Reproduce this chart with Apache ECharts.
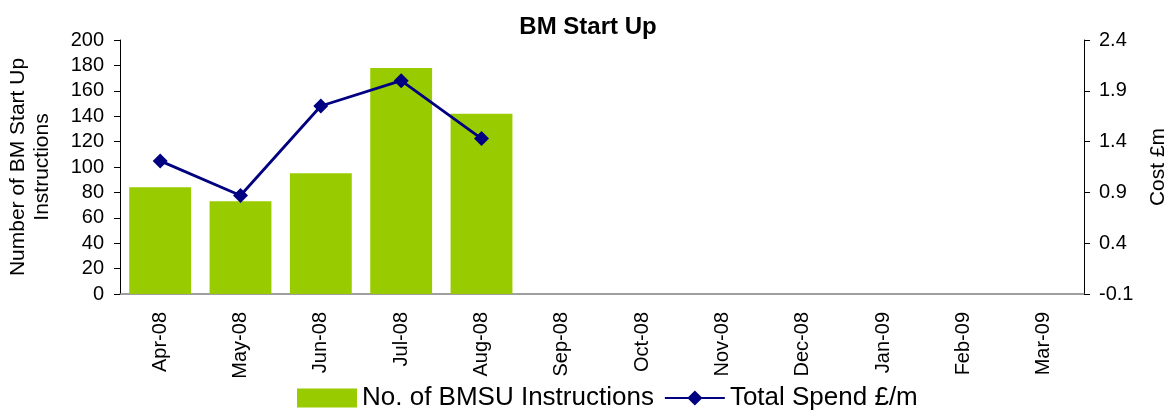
<!DOCTYPE html>
<html>
<head>
<meta charset="utf-8">
<script src="https://cdn.jsdelivr.net/npm/echarts@6/dist/echarts.min.js"></script>
<style>
  html, body { margin: 0; padding: 0; background: #fff; }
  #chart { width: 1176px; height: 416px; }
</style>
</head>
<body>
<div id="chart"></div>
<script>
const months = ['Apr-08', 'May-08', 'Jun-08', 'Jul-08', 'Aug-08', 'Sep-08',
  'Oct-08', 'Nov-08', 'Dec-08', 'Jan-09', 'Feb-09', 'Mar-09']
const instructions = [84, 73, 95, 178, 142, null, null, null, null, null, null, null]
const spend = [1.21, 0.87, 1.75, 2.0, 1.43, null, null, null, null, null, null, null]

const font = 'Liberation Sans, Arial, sans-serif'

const chart = echarts.init(document.getElementById('chart'))
chart.setOption({
  animation: false,
  title: {
    text: 'BM Start Up',
    left: 'center',
    top: 10,
    textStyle: { fontFamily: font, fontSize: 24, fontWeight: 'bold', color: '#000' }
  },
  legend: {
    bottom: 0,
    left: 292,
    itemGap: 10,
    textStyle: { fontFamily: font, fontSize: 26, color: '#000' },
    data: [
      { name: 'No. of BMSU Instructions', icon: 'rect', itemStyle: { color: '#99cc00' } },
      { name: 'Total Spend £/m' }
    ],
    itemWidth: 60,
    itemHeight: 19
  },
  grid: { left: 120, right: 92, top: 40, bottom: 122, outerBoundsMode: 'none' },
  xAxis: {
    type: 'category',
    data: months,
    axisLine: { lineStyle: { color: '#808080', width: 1.5 } },
    axisTick: { lineStyle: { color: '#808080' }, length: 6 },
    axisLabel: { rotate: 90, fontFamily: font, fontSize: 20, color: '#000', margin: 18 }
  },
  yAxis: [
    {
      type: 'value',
      min: 0,
      max: 200,
      interval: 20,
      name: 'Number of BM Start Up\nInstructions',
      nameLocation: 'middle',
      nameRotate: 90,
      nameGap: 66,
      nameTextStyle: { fontFamily: font, fontSize: 21, color: '#000', lineHeight: 24 },
      splitLine: { show: false },
      axisLine: { show: true, lineStyle: { color: '#000' } },
      axisTick: { show: true, length: 6, lineStyle: { color: '#000' } },
      axisLabel: { fontFamily: font, fontSize: 20, color: '#000', margin: 16 }
    },
    {
      type: 'value',
      min: -0.1,
      max: 2.4,
      interval: 0.5,
      name: 'Cost £m',
      nameLocation: 'middle',
      nameRotate: 90,
      nameGap: 64,
      nameTextStyle: { fontFamily: font, fontSize: 21, color: '#000' },
      splitLine: { show: false },
      axisLine: { show: true, lineStyle: { color: '#000' } },
      axisTick: { show: true, length: 6, lineStyle: { color: '#000' } },
      axisLabel: {
        fontFamily: font, fontSize: 20, color: '#000', margin: 15,
        formatter: v => v.toFixed(1)
      }
    }
  ],
  series: [
    {
      name: 'No. of BMSU Instructions',
      type: 'bar',
      data: instructions,
      barCategoryGap: '23%',
      itemStyle: { color: '#99cc00' }
    },
    {
      name: 'Total Spend £/m',
      type: 'line',
      yAxisIndex: 1,
      data: spend,
      symbol: 'diamond',
      symbolSize: 15,
      lineStyle: { color: '#000080', width: 2.8 },
      itemStyle: { color: '#000080' }
    }
  ]
})
</script>
</body>
</html>
